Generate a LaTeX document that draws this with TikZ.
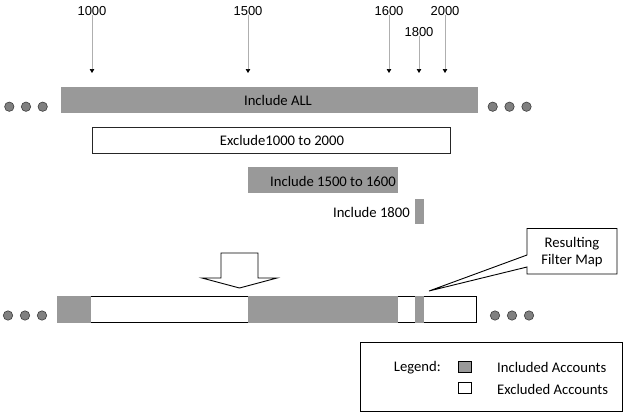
\documentclass[tikz,border=0pt]{standalone}
\usepackage{fontspec}
\setmainfont{Carlito}
\newfontfamily\numfont{Liberation Sans}
\usetikzlibrary{arrows.meta}
\definecolor{barfill}{RGB}{153,153,153}
\definecolor{dotfill}{RGB}{128,128,128}
\definecolor{dotline}{RGB}{60,60,60}
\definecolor{tickline}{RGB}{175,175,175}
\tikzset{
  lbl/.style={inner sep=0pt, font=\fontsize{14.67}{16}\selectfont},
  numlbl/.style={inner sep=0pt, font=\numfont\fontsize{13}{14}\selectfont},
  tick/.style={draw=tickline, line width=0.7pt, -{Triangle[length=4pt,width=4.5pt,color=black]}},
  inclbar/.style={fill=barfill, draw=none},
  exclbox/.style={draw=black!85, fill=white, line width=1pt},
  dot/.style={circle, fill=dotfill, draw=dotline, line width=0.6pt, minimum size=9.4pt, inner sep=0pt},
  outline/.style={draw=black, line width=0.9pt},
}
\begin{document}
\begin{tikzpicture}[x=1pt,y=-1pt]
\useasboundingbox (0,0) rectangle (631,415);

% account number markers
\node[numlbl] (n1000) at (92,11) {1000};
\node[numlbl] (n1500) at (248,11) {1500};
\node[numlbl] (n1600) at (389,11) {1600};
\node[numlbl] (n2000) at (445,11) {2000};
\node[numlbl] (n1800) at (419,32) {1800};
\coordinate (t1000) at (92,73);
\coordinate (t1500) at (248,73);
\coordinate (t1600) at (389,73);
\coordinate (t1800) at (419,73);
\coordinate (t2000) at (445,73);
\draw[tick] (n1000.south) ++(0,-1) -- (t1000);
\draw[tick] (n1500.south) ++(0,-1) -- (t1500);
\draw[tick] (n1600.south) ++(0,-1) -- (t1600);
\draw[tick] (n2000.south) ++(0,-1) -- (t2000);
\draw[tick] (n1800.south) ++(0,-1) -- (t1800);

% filter rules
\fill[inclbar] (61,87) rectangle (478,112.5);
\node[lbl] (all) at (278,100.5) {Include ALL};
\filldraw[exclbox] (92.5,127) rectangle (450,153);
\node[lbl] (excl) at (282,140.5) {Exclude1000 to 2000};
\fill[inclbar] (248,167) rectangle (398,192.5);
\node[lbl, anchor=east] (inc15) at (396,181) {Include 1500 to 1600};
\fill[inclbar] (414.5,198.5) rectangle (423.5,224);
\node[lbl, anchor=east] (inc18) at (410,212) {Include 1800};

% continuation dots, first row
\foreach \x [count=\i] in {9.3,26,42.7} \node[dot] (dl\i) at (\x,106.7) {};
\foreach \x [count=\i] in {492.7,509.5,526.5} \node[dot] (dr\i) at (\x,106.7) {};

% hollow arrow pointing to the result
\draw[line width=0.9pt, fill=white, line join=miter]
  (221,253) -- (258,253) -- (258,278) -- (277,278) -- (239.5,288)
  -- (202,278) -- (221,278) -- cycle;

% resulting filter map
\filldraw[fill=white, outline] (57,296.5) rectangle (476,322.5);
\fill[inclbar] (56.5,296) rectangle (91,323);
\fill[inclbar] (248,296) rectangle (398,323);
\fill[inclbar] (414.5,296) rectangle (424,323);
\node[inner sep=0pt] (result) at (266.5,309.5) {};

% continuation dots, second row
\foreach \x [count=\i] in {8,25,42} \node[dot] (bl\i) at (\x,315.5) {};
\foreach \x [count=\i] in {495,512,529} \node[dot] (br\i) at (\x,315.5) {};

% callout
\coordinate (ptr) at (429,291);
\draw[outline, fill=white, line join=miter]
  (527,228.5) -- (617,228.5) -- (617,274) -- (527,274) -- (527,267)
  -- (ptr) -- (527,255) -- cycle;
\node[lbl, align=center] (callout) at (572,252.5) {Resulting\\[1pt]Filter Map};

% legend
\draw[outline] (360,342) rectangle (622.5,411.5);
\node[lbl, anchor=east] (legend) at (441,367.5) {Legend:};
\filldraw[fill=barfill, draw=black, line width=0.8pt] (458.5,361) rectangle (471,372.5);
\filldraw[fill=white, draw=black, line width=0.8pt] (458.5,382) rectangle (471,393.5);
\node[lbl, anchor=west] (incl) at (497,367.5) {Included Accounts};
\node[lbl, anchor=west] (exclk) at (497,389) {Excluded Accounts};
\end{tikzpicture}
\end{document}
